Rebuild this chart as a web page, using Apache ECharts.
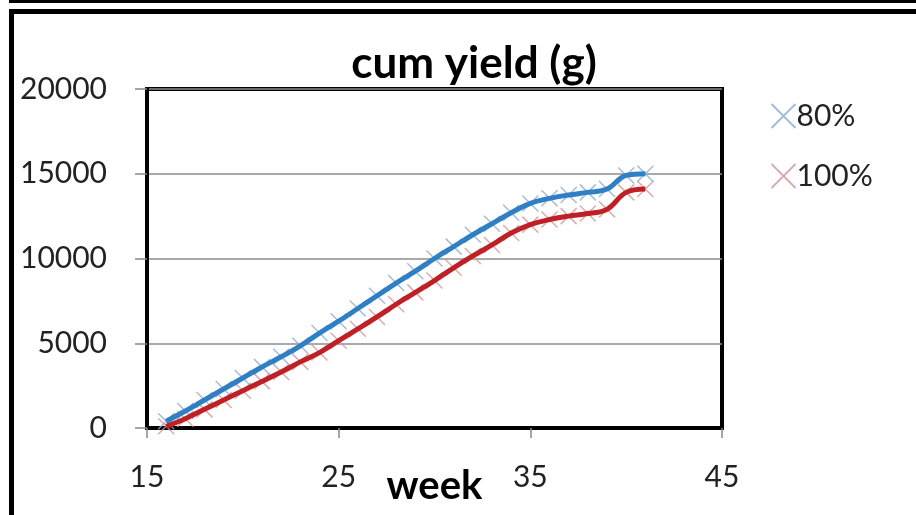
<!DOCTYPE html>
<html>
<head>
<meta charset="utf-8">
<script src="https://cdn.jsdelivr.net/npm/echarts@6/dist/echarts.min.js"></script>
<style>
html, body { margin: 0; padding: 0; background: #fff; }
#main { width: 916px; height: 515px; }
</style>
</head>
<body>
<div id="main"></div>
<script>
// weeks and cumulative yield (g)
var weeks = [16, 17, 18, 19, 20, 21, 22, 23, 24, 25, 26, 27, 28,
	29, 30, 31, 32, 33, 34, 35, 36, 37, 38, 39, 40, 41];
var yield80 = [400, 1000, 1650, 2300, 2950, 3600, 4200, 4850, 5600, 6300, 7050, 7800, 8550,
	9250, 10000, 10700, 11400, 12050, 12700, 13250, 13550, 13750, 13900, 14100, 14900, 15000];
var yield100 = [100, 550, 1100, 1650, 2200, 2750, 3300, 3900, 4450, 5150, 5850, 6550, 7300,
	8000, 8700, 9450, 10150, 10800, 11500, 12000, 12300, 12500, 12650, 12900, 13900, 14100];
var xTicks = [15, 25, 35, 45];
var yTicks = [0, 5000, 10000, 15000, 20000];

function pairs(xs, ys) {
	var out = [];
	for (var i = 0; i < xs.length; i++) {
		out.push([xs[i], ys[i]]);
	}
	return out;
}

var crossPath = 'path://M0,0L10,10M10,0L0,10';
var font = 'Lato, "Open Sans", sans-serif';

var chart = echarts.init(document.getElementById('main'));

var option = {
	backgroundColor: '#fff',
	animation: false,
	title: {
		text: 'cum yield (g)',
		left: 469,
		top: 37,
		textAlign: 'center',
		textStyle: { fontFamily: font, fontWeight: 'bold', fontSize: 44, color: '#000' }
	},
	legend: {
		orient: 'vertical',
		left: 764,
		top: 96,
		itemGap: 30,
		itemWidth: 24,
		itemHeight: 24,
		data: ['80%', '100%'],
		textStyle: { fontFamily: font, fontSize: 30, color: '#222', padding: [0, 0, 0, -4] }
	},
	grid: {
		left: 147,
		right: 194,
		top: 89,
		bottom: 87,
		outerBoundsMode: 'none',
		containLabel: false,
		show: true,
		borderColor: '#000',
		borderWidth: 4,
		backgroundColor: '#fff'
	},
	xAxis: {
		type: 'value',
		min: 15,
		max: 45,
		interval: 10,
		name: 'week',
		nameLocation: 'middle',
		nameGap: 38,
		nameMoveOverlap: false,
		nameTextStyle: { fontFamily: font, fontWeight: 'bold', fontSize: 40, color: '#000' },
		axisLine: { show: true, lineStyle: { color: '#000', width: 4 } },
		axisTick: { show: true, inside: false, length: 10, lineStyle: { color: '#888', width: 1.5 } },
		axisLabel: {
			margin: 34,
			fontFamily: font, fontSize: 30, color: '#222',
			formatter: function (v) { return xTicks.indexOf(v) >= 0 ? String(v) : ''; }
		},
		splitLine: { show: false }
	},
	yAxis: {
		type: 'value',
		min: 0,
		max: 20000,
		interval: 5000,
		axisLine: { show: true, lineStyle: { color: '#000', width: 4 } },
		axisTick: { show: true, length: 12, lineStyle: { color: '#888', width: 1.5 } },
		axisLabel: {
			margin: 40,
			fontFamily: font, fontSize: 30, color: '#222',
			formatter: function (v) { return yTicks.indexOf(v) >= 0 ? String(v) : ''; }
		},
		splitLine: { show: true, lineStyle: { color: '#8c8c8c', width: 1.5 } }
	},
	graphic: [
		{ type: 'rect', shape: { x: 9, y: 0, width: 907, height: 3 }, style: { fill: '#000' } },
		{ type: 'rect', shape: { x: 9, y: 9, width: 907, height: 5 }, style: { fill: '#000' } },
		{ type: 'rect', shape: { x: 9, y: 9, width: 5, height: 506 }, style: { fill: '#000' } }
	],
	series: [
		{
			name: '80%',
			type: 'scatter',
			symbol: crossPath,
			symbolSize: 16,
			itemStyle: { color: 'none', borderColor: '#8eabd0', borderWidth: 1.5 },
			z: 2,
			data: pairs(weeks, yield80)
		},
		{
			name: '100%',
			type: 'scatter',
			symbol: crossPath,
			symbolSize: 16,
			itemStyle: { color: 'none', borderColor: '#cf9898', borderWidth: 1.5 },
			z: 2,
			data: pairs(weeks, yield100)
		},
		{
			name: 'trend80',
			type: 'line',
			smooth: 0.4,
			showSymbol: false,
			lineStyle: { color: '#2f7fc4', width: 5 },
			z: 3,
			data: pairs(weeks, yield80)
		},
		{
			name: 'trend100',
			type: 'line',
			smooth: 0.4,
			showSymbol: false,
			lineStyle: { color: '#be2026', width: 5 },
			z: 3,
			data: pairs(weeks, yield100)
		}
	]
};

chart.setOption(option);
</script>
</body>
</html>
